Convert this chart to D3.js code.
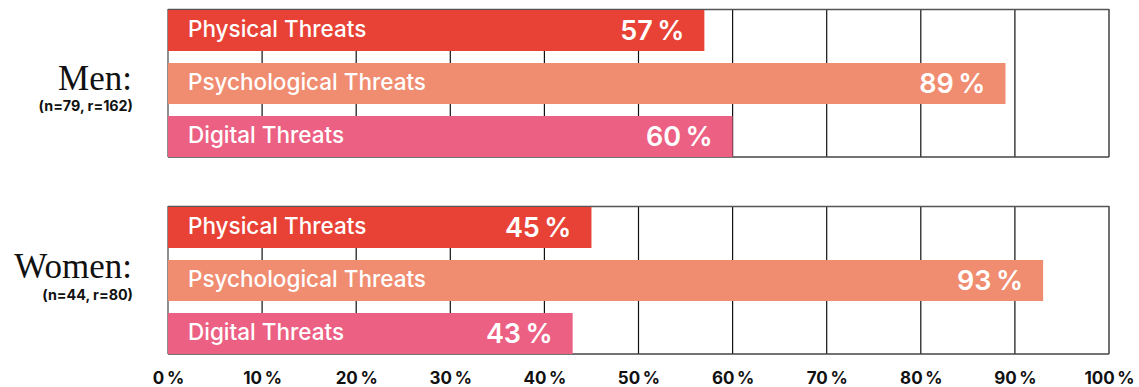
<!DOCTYPE html>
<html>
<head>
<meta charset="utf-8">
<script src="https://cdn.jsdelivr.net/npm/d3@7"></script>
<style>
  html, body { margin: 0; padding: 0; background: #fff; }
  svg { display: block; }
</style>
</head>
<body>
<svg id="chart" width="1139" height="387"></svg>
<script>
// Share of respondents reporting each kind of threat, by gender
const groups = ["Men:", "Women:"];
const groupNotes = ["(n=79, r=162)", "(n=44, r=80)"];
const threats = ["Physical Threats", "Psychological Threats", "Digital Threats"];
const menValues = [57, 89, 60];
const womenValues = [45, 93, 43];
const tickValues = [0, 10, 20, 30, 40, 50, 60, 70, 80, 90, 100];
const tickLabels = ["0\u2009%", "10\u2009%", "20\u2009%", "30\u2009%", "40\u2009%", "50\u2009%",
                    "60\u2009%", "70\u2009%", "80\u2009%", "90\u2009%", "100\u2009%"];
const threatColors = ["#e84236", "#f08c70", "#ec6083"];

const seriesByGroup = [menValues, womenValues];

const svg = d3.select("#chart");
const sans = "Inter, 'Helvetica Neue', Arial, sans-serif";

const x = d3.scaleLinear().domain([0, 100]).range([168, 1109]);
const yGroup = d3.scaleBand().domain(groups).range([10, 354]).paddingInner(50 / 197);
const yBar = d3.scaleBand().domain(threats).range([0, yGroup.bandwidth()]).paddingInner(12 / 53);
const color = d3.scaleOrdinal().domain(threats).range(threatColors);

// vertical offsets of the group title, measured from the panel top
const titleOffset = [80, 71];
const noteOffset = [101, 93];

groups.forEach((g, gi) => {
  const top = yGroup(g);
  const panel = svg.append("g").attr("transform", `translate(0,${top})`);

  // grid behind the bars
  panel.selectAll("line.grid")
    .data(tickValues)
    .join("line")
    .attr("class", "grid")
    .attr("x1", d => x(d)).attr("x2", d => x(d))
    .attr("y1", -1).attr("y2", yGroup.bandwidth())
    .attr("stroke", d => d === 0 ? "#444" : "#111")
    .attr("stroke-width", 1.2);

  panel.append("line")
    .attr("x1", x(0)).attr("x2", x(100))
    .attr("y1", -0.5).attr("y2", -0.5)
    .attr("stroke", "#555").attr("stroke-width", 1.5);
  panel.append("line")
    .attr("x1", x(0)).attr("x2", x(100))
    .attr("y1", yGroup.bandwidth()).attr("y2", yGroup.bandwidth())
    .attr("stroke", "#444").attr("stroke-width", 1.5);

  const rows = threats.map((t, i) => ({ threat: t, value: seriesByGroup[gi][i] }));

  const bar = panel.selectAll("g.bar")
    .data(rows)
    .join("g")
    .attr("class", "bar")
    .attr("transform", d => `translate(0,${yBar(d.threat)})`);

  bar.append("rect")
    .attr("x", x(0))
    .attr("y", 0)
    .attr("width", d => x(d.value) - x(0))
    .attr("height", yBar.bandwidth())
    .attr("fill", d => color(d.threat));

  bar.append("text")
    .attr("x", x(0) + 20)
    .attr("y", 27)
    .attr("fill", "#fff")
    .attr("font-family", sans)
    .attr("font-weight", 500)
    .attr("font-size", 22.5)
    .text(d => d.threat);

  bar.append("text")
    .attr("x", d => x(d.value) - 20)
    .attr("y", 30)
    .attr("text-anchor", "end")
    .attr("fill", "#fff")
    .attr("font-family", sans)
    .attr("font-weight", 600)
    .attr("font-size", 27)
    .text(d => d.value + "\u2009%");

  svg.append("text")
    .attr("x", 132)
    .attr("y", top + titleOffset[gi])
    .attr("text-anchor", "end")
    .attr("font-family", "'Liberation Serif', 'Times New Roman', serif")
    .attr("font-size", 35)
    .attr("fill", "#111")
    .text(g);

  svg.append("text")
    .attr("x", 133)
    .attr("y", top + noteOffset[gi])
    .attr("text-anchor", "end")
    .attr("font-family", sans)
    .attr("font-weight", 700)
    .attr("font-size", 14.3)
    .attr("fill", "#111")
    .text(groupNotes[gi]);
});

// percentage axis along the bottom
const axis = d3.axisBottom(x)
  .tickValues(tickValues)
  .tickFormat((d, i) => tickLabels[i])
  .tickSize(0)
  .tickPadding(0);

const axisG = svg.append("g")
  .attr("transform", "translate(0,384)")
  .call(axis);
axisG.select(".domain").remove();
axisG.selectAll("text")
  .attr("dy", "0")
  .attr("font-family", sans)
  .attr("font-weight", 700)
  .attr("font-size", 17)
  .attr("fill", "#111");
</script>
</body>
</html>
